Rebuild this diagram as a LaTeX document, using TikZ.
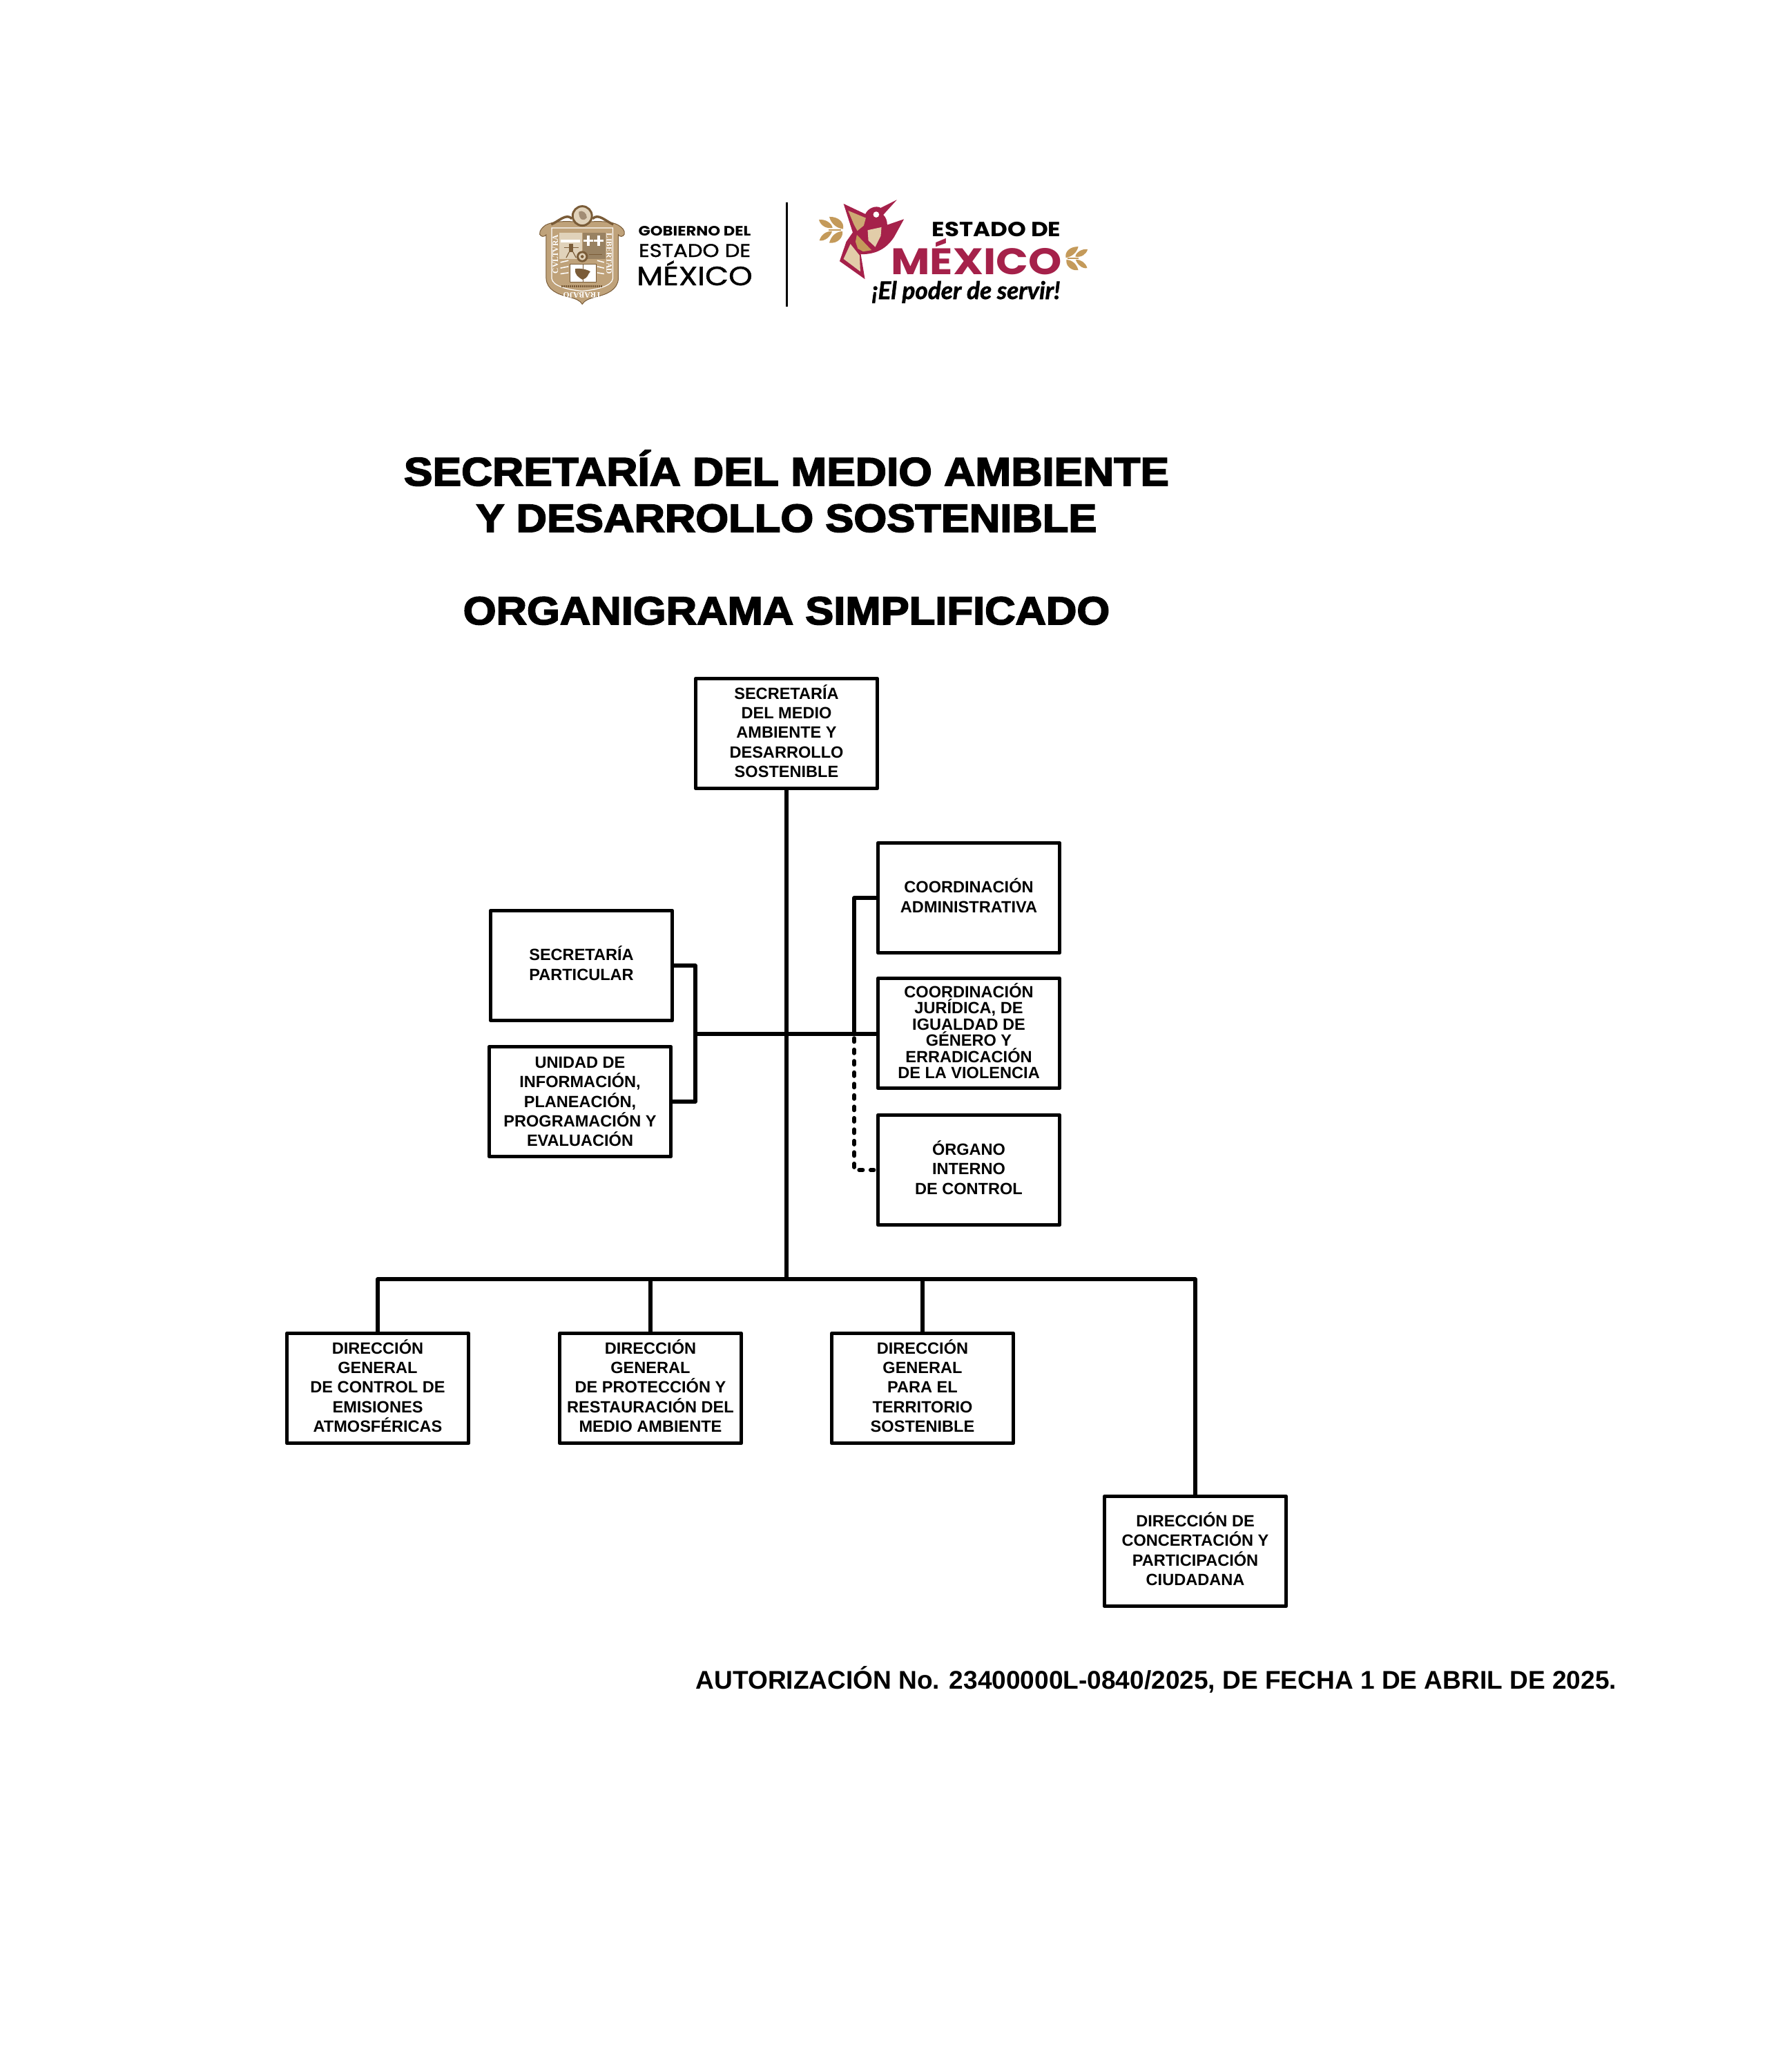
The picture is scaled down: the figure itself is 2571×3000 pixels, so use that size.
\documentclass[tikz,border=0pt]{standalone}
\usepackage{fontspec}
\setmainfont{Liberation Sans}
\newfontfamily\titlefont{Liberation Sans}[BoldFeatures = {FakeStretch = 1.08, FakeBold = 3}]
\newfontfamily\logofont{Poppins}[BoldFeatures = {FakeStretch = 1.15}]
\newfontfamily\logolightfont{Poppins}[FakeStretch = 1.15, FakeBold = 1.2]
\newfontfamily\sloganfont{Lato}[BoldItalicFeatures = {FakeStretch = 1.0, FakeBold = 1.5}]
\newfontfamily\shieldfont{Liberation Serif}
\definecolor{guinda}{HTML}{A5214A}
\definecolor{sprigGold}{HTML}{C49A5A}
\definecolor{birdCream}{HTML}{E2CDA9}
\definecolor{shieldTan}{HTML}{BFA27A}
\definecolor{shieldPale}{HTML}{E0D2BA}
\definecolor{shieldDark}{HTML}{7A5C38}

\tikzset{
  sprig/.pic = {
    \fill[sprigGold] (48, 87) .. controls (85, 85) and (115, 110) .. (108, 140) .. controls (78, 136) and (55, 115) .. (48, 87);
    \fill[sprigGold] (48, 200) .. controls (85, 205) and (110, 175) .. (105, 150) .. controls (80, 150) and (55, 170) .. (48, 200);
    \fill[sprigGold] (3, 100) .. controls (30, 95) and (60, 115) .. (62, 135) .. controls (35, 140) and (10, 125) .. (3, 100);
    \fill[sprigGold] (5, 190) .. controls (30, 195) and (55, 170) .. (60, 150) .. controls (35, 148) and (12, 165) .. (5, 190);
    \draw[sprigGold, line width = 0.02cm] (45, 143) -- (100, 143);
  }
}

\begin{document}
\begin{tikzpicture}[
  x = 0.01cm,
  y = -0.01cm,
  orgbox/.style = {
    draw = black,
    fill = white,
    line width = 0.055cm,
    line join = round,
    minimum width = 2.63cm,
    minimum height = 1.59cm,
    inner sep = 0pt,
    align = center,
    text depth = 0.07cm,
    font = \fontsize{6.7}{8}\selectfont\bfseries
  },
  tightbox/.style = {
    orgbox,
    font = \fontsize{6.7}{6.65}\selectfont\bfseries
  },
  orgline/.style = {
    line width = 0.055cm,
    line join = round
  },
  dashline/.style = {
    line width = 0.055cm,
    line cap = round,
    dash pattern = on 0.055cm off 0.11cm
  },
  titletext/.style = {
    font = \fontsize{16.2}{16.2}\selectfont\titlefont\bfseries,
    inner sep = 0pt,
    anchor = base
  },
  logotext/.style = {
    inner sep = 0pt,
    anchor = base
  },
  shieldtext/.style = {
    font = \fontsize{3.3}{3.3}\selectfont\shieldfont\bfseries,
    text = white,
    inner sep = 0pt
  }
]
  \useasboundingbox (0, 0) rectangle (2571, 3000);

  % coat of arms
  \begin{scope}[shift = {(775, 290)}, x = 0.00333cm, y = -0.00333cm]
    \filldraw[fill = shieldTan, draw = shieldDark, line width = 0.01cm]
      (45, 108) .. controls (80, 90) and (130, 90) .. (205, 95)
      .. controls (280, 90) and (330, 90) .. (362, 108)
      .. controls (378, 118) and (392, 130) .. (388, 148)
      .. controls (382, 160) and (368, 160) .. (362, 150) -- (362, 340)
      .. controls (360, 390) and (310, 410) .. (265, 420)
      .. controls (235, 428) and (215, 435) .. (205, 452)
      .. controls (195, 435) and (175, 428) .. (145, 420)
      .. controls (100, 410) and (50, 390) .. (48, 340) -- (48, 150)
      .. controls (40, 160) and (25, 160) .. (20, 148)
      .. controls (18, 130) and (32, 118) .. (45, 108) -- cycle;
    \draw[shieldDark, line width = 0.035cm] (160, 80) .. controls (135, 55) and (105, 90) .. (70, 105);
    \draw[shieldDark, line width = 0.035cm] (250, 80) .. controls (275, 55) and (305, 90) .. (340, 105);
    \filldraw[fill = shieldPale, draw = shieldDark, line width = 0.03cm] (205, 68) circle (42);
    \fill[shieldDark!70] (190, 50) .. controls (205, 40) and (225, 55) .. (225, 75) .. controls (210, 95) and (190, 85) .. (190, 50);
    \draw[white, line width = 0.012cm] (72, 120) -- (338, 120) -- (338, 340)
      .. controls (335, 375) and (260, 390) .. (205, 395)
      .. controls (150, 390) and (75, 375) .. (72, 340) -- cycle;
    \fill[shieldPale] (105, 140) rectangle (203, 255);
    \fill[shieldTan!80!black] (208, 140) rectangle (305, 255);
    \fill[white] (112, 172) rectangle (195, 182);
    \fill[white] (225, 152) rectangle (236, 198);
    \fill[white] (210, 170) rectangle (251, 181);
    \fill[white] (270, 152) rectangle (281, 198);
    \fill[white] (255, 170) rectangle (296, 181);
    \fill[shieldDark] (148, 190) rectangle (165, 225);
    \draw[shieldDark, line width = 0.012cm] (125, 205) -- (190, 205);
    \draw[shieldDark, line width = 0.012cm] (148, 225) -- (135, 250);
    \draw[shieldDark, line width = 0.012cm] (165, 225) -- (178, 250);
    \draw[shieldDark, line width = 0.012cm] (235, 235) -- (290, 235);
    \draw[white, line width = 0.015cm] (110, 270) -- (145, 262);
    \draw[white, line width = 0.015cm] (110, 295) -- (145, 288);
    \draw[white, line width = 0.015cm] (110, 320) -- (145, 315);
    \draw[white, line width = 0.015cm] (300, 270) -- (270, 262);
    \draw[white, line width = 0.015cm] (300, 295) -- (270, 288);
    \draw[white, line width = 0.015cm] (300, 320) -- (270, 315);
    \filldraw[fill = white, draw = shieldDark, line width = 0.008cm] (150, 278) rectangle (265, 355);
    \draw[shieldDark, line width = 0.008cm] (207, 278) -- (207, 355);
    \fill[shieldDark] (175, 298) .. controls (195, 295) and (225, 300) .. (240, 310)
      .. controls (225, 325) and (235, 335) .. (205, 345)
      .. controls (190, 335) and (170, 325) .. (175, 298);
    \filldraw[fill = shieldPale, draw = shieldDark, line width = 0.03cm] (205, 245) circle (20);
    \fill[shieldDark] (205, 245) circle (7);
    \draw[shieldDark, line width = 0.03cm, dash pattern = on 0.015cm off 0.015cm] (115, 375) -- (295, 375);
    \node[shieldtext, rotate = 90] (cultura) at (88, 235) {CVLTVRA};
    \node[shieldtext, rotate = -90] (libertad) at (322, 232) {LIBERTAD};
    \node[shieldtext, rotate = 180] (trabajo) at (205, 412) {TRABAJO};
  \end{scope}

  \node[logotext, font = \fontsize{5.6}{5.6}\selectfont\logofont\bfseries] (gobierno) at (1006, 341) {GOBIERNO DEL};
  \node[logotext, font = \fontsize{7.57}{7.57}\selectfont\logolightfont] (estadoA) at (1006, 372) {ESTADO DE};
  \node[logotext, font = \fontsize{10.9}{10.9}\selectfont\logolightfont] (mexicoA) at (1006, 413) {MÉXICO};

  \coordinate (dividerT) at (1139, 293);
  \coordinate (dividerB) at (1139, 444);
  \draw[line width = 0.03cm] (dividerT) -- (dividerB);

  % hummingbird and sprigs
  \begin{scope}[shift = {(1185, 285)}, x = 0.00333cm, y = -0.00333cm]
    \pic {sprig};
    \fill[guinda] (342, 13) -- (272, 48) .. controls (250, 35) and (215, 50) .. (205, 75)
      -- (110, 30) -- (150, 155) -- (122, 195) -- (93, 280) -- (203, 358) -- (185, 250)
      .. controls (240, 250) and (290, 235) .. (330, 175) -- (373, 97) -- (300, 122)
      .. controls (300, 105) and (295, 90) .. (283, 78) -- cycle;
    \fill[sprigGold!85!white] (130, 60) -- (207, 92) -- (198, 125) -- (170, 148) -- (155, 120) -- cycle;
    \fill[birdCream] (215, 145) -- (275, 132) -- (272, 170) -- (248, 218) -- (218, 190) -- cycle;
    \fill[sprigGold] (168, 165) -- (232, 232) -- (195, 238) -- (172, 225) -- (162, 195) -- cycle;
    \fill[birdCream] (140, 205) -- (180, 255) -- (183, 325) -- (110, 270) -- cycle;
    \fill[white] (252, 77) circle (13);
  \end{scope}
  \begin{scope}[shift = {(1576, 331)}, x = -0.003cm, y = -0.003cm]
    \pic {sprig};
  \end{scope}

  \node[logotext, font = \fontsize{8.43}{8.43}\selectfont\logofont\bfseries] (estadoB) at (1443, 342) {ESTADO DE};
  \node[logotext, font = \fontsize{15.2}{15.2}\selectfont\logofont\bfseries, text = guinda] (mexicoB) at (1414, 397) {MÉXICO};
  \node[logotext, font = \fontsize{10}{10}\selectfont\sloganfont\bfseries\itshape] (slogan) at (1399, 433) {¡El poder de servir!};

  % titles
  \node[titletext, font = \fontsize{16.43}{16.43}\selectfont\titlefont\bfseries] (titleA) at (1139, 703) {SECRETARÍA DEL MEDIO AMBIENTE};
  \node[titletext] (titleB) at (1139, 770) {Y DESARROLLO SOSTENIBLE};
  \node[titletext] (titleC) at (1139, 904) {ORGANIGRAMA SIMPLIFICADO};

  % boxes
  \node[orgbox] (sec) at (1139, 1062) {SECRETARÍA\\DEL MEDIO\\AMBIENTE Y\\DESARROLLO\\SOSTENIBLE};

  \node[orgbox] (part) at (842, 1398) {SECRETARÍA\\PARTICULAR};
  \node[orgbox, text depth = 0pt] (unidad) at (840, 1595) {UNIDAD DE\\INFORMACIÓN,\\PLANEACIÓN,\\PROGRAMACIÓN Y\\EVALUACIÓN};

  \node[orgbox] (admin) at (1403, 1300) {COORDINACIÓN\\ADMINISTRATIVA};
  \node[tightbox] (juridica) at (1403, 1496) {COORDINACIÓN\\JURÍDICA, DE\\IGUALDAD DE\\GÉNERO Y\\ERRADICACIÓN\\DE LA VIOLENCIA};
  \node[orgbox] (organo) at (1403, 1694) {ÓRGANO\\INTERNO\\DE CONTROL};

  \node[orgbox] (dirA) at (547, 2010) {DIRECCIÓN\\GENERAL\\DE CONTROL DE\\EMISIONES\\ATMOSFÉRICAS};
  \node[orgbox] (dirB) at (942, 2010) {DIRECCIÓN\\GENERAL\\DE PROTECCIÓN Y\\RESTAURACIÓN DEL\\MEDIO AMBIENTE};
  \node[orgbox] (dirC) at (1336, 2010) {DIRECCIÓN\\GENERAL\\PARA EL\\TERRITORIO\\SOSTENIBLE};
  \node[orgbox] (dirD) at (1731, 2246) {DIRECCIÓN DE\\CONCERTACIÓN Y\\PARTICIPACIÓN\\CIUDADANA};

  % connectors
  \coordinate (bus) at (1139, 1852);
  \coordinate (busA) at (547, 1852);
  \coordinate (busB) at (942, 1852);
  \coordinate (busC) at (1336, 1852);
  \coordinate (busD) at (1731, 1852);
  \coordinate (hubL) at (1007, 1497);
  \coordinate (hubR) at (1237, 1497);

  \draw[orgline] (sec) -- (bus);
  \draw[orgline] (dirA.north) -- (busA) -- (busD) -- (dirD.north);
  \draw[orgline] (busB) -- (dirB.north);
  \draw[orgline] (busC) -- (dirC.north);

  \draw[orgline] (part.east) -| (hubL) |- (unidad.east);
  \draw[orgline] (hubL) -- (juridica.west |- hubL);
  \draw[orgline] (hubR) |- (admin.west);
  \draw[dashline, shorten < = 0.06cm, shorten > = 0.03cm] (hubR) |- (organo.west);

  % authorisation line
  \node[font = \fontsize{10.54}{10.54}\selectfont\bfseries, inner sep = 0pt, anchor = base west] (autorizacion) at (1007, 2445)
    {AUTORIZACIÓN No. 23400000L-0840/2025, DE FECHA 1 DE ABRIL DE 2025.};
\end{tikzpicture}
\end{document}
